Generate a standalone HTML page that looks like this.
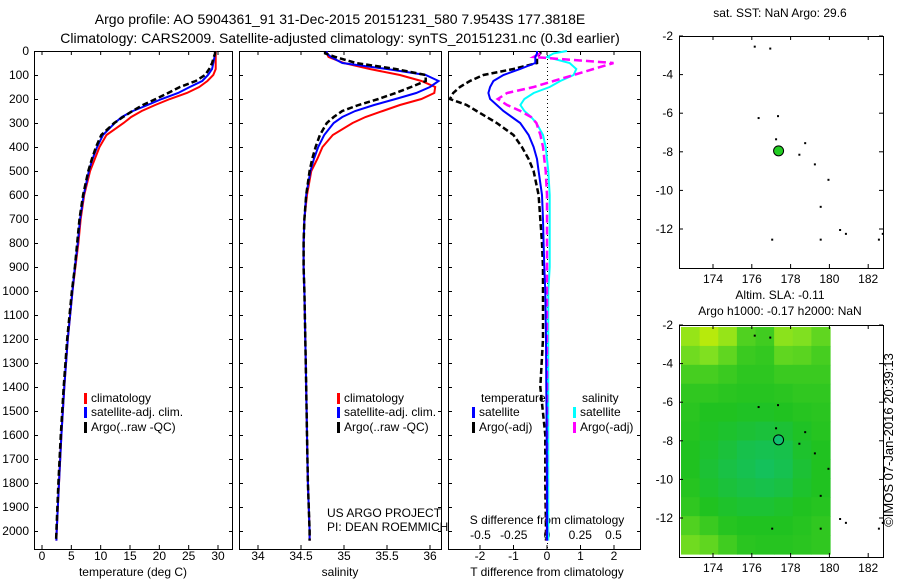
<!DOCTYPE html>
<html><head><meta charset="utf-8"><style>
html,body{margin:0;padding:0;background:#fff;}
svg{display:block;font-family:"Liberation Sans",sans-serif;}
text{font-size:12px;fill:#000;}
</style></head><body>
<svg id="chart" width="900" height="580" viewBox="0 0 900 580">
<text x="340" y="24" text-anchor="middle" style="font-size:14px">Argo profile: AO 5904361_91 31-Dec-2015 20151231_580 7.9543S 177.3818E</text>
<text x="340" y="43" text-anchor="middle" style="font-size:14px">Climatology: CARS2009. Satellite-adjusted climatology: synTS_20151231.nc (0.3d earlier)</text>
<g id="g"></g>
</svg>
<script>
// ---- data ----
const depths=[0,10,25,50,75,100,125,150,175,200,225,250,275,300,350,400,450,500,600,700,800,900,1000,1200,1400,1600,1800,2000,2040];
const tempClim=[29.6,29.6,29.6,29.6,29.6,29.2,28.2,26.8,24.7,21.8,19.3,17.0,15.2,13.9,11.0,9.8,9.0,8.2,7.2,6.6,6.2,5.7,5.2,4.4,3.8,3.3,2.9,2.5,2.45];
const tempSat=[29.5,29.5,29.4,29.2,29.0,28.3,27.3,25.2,23.2,20.4,18.0,15.5,13.6,12.4,10.4,9.4,8.6,8.0,7.1,6.5,6.1,5.6,5.2,4.4,3.8,3.3,2.9,2.5,2.45];
const tempArgo=[29.5,29.5,29.3,29.0,28.5,27.8,26.2,23.5,21.5,19.4,17.2,15.4,13.8,12.3,10.1,9.2,8.5,7.9,7.0,6.4,6.0,5.6,5.1,4.3,3.7,3.2,2.8,2.45,2.4];
const salClim=[34.8,34.8,34.82,35.0,35.3,35.65,35.9,36.06,36.05,35.9,35.65,35.45,35.25,35.1,34.87,34.75,34.69,34.62,34.57,34.54,34.53,34.53,34.54,34.55,34.56,34.57,34.58,34.6,34.6];
const salSat=[34.8,34.8,34.85,34.98,35.5,35.95,36.1,36.0,35.84,35.6,35.35,35.13,34.98,34.88,34.77,34.7,34.65,34.61,34.56,34.54,34.53,34.53,34.54,34.55,34.56,34.57,34.58,34.6,34.6];
const salArgo=[34.78,34.78,34.9,35.14,35.6,35.95,35.95,35.78,35.6,35.4,35.17,34.98,34.88,34.8,34.72,34.67,34.63,34.6,34.56,34.54,34.53,34.53,34.54,34.55,34.56,34.57,34.58,34.6,34.6];
const tDiffSat=[-0.3,-0.3,-0.35,-0.35,-0.8,-1.3,-1.6,-1.7,-1.75,-1.7,-1.5,-1.3,-1.05,-0.8,-0.55,-0.4,-0.3,-0.25,-0.15,-0.12,-0.1,-0.08,-0.05,-0.03,-0.02,-0.01,0,0,0];
const tDiffArgo=[-0.2,-0.2,-0.3,-0.3,-1.0,-1.9,-2.3,-2.6,-2.8,-2.9,-2.4,-2.1,-1.8,-1.5,-1.0,-0.75,-0.55,-0.4,-0.25,-0.2,-0.15,-0.12,-0.12,-0.12,-0.2,-0.05,-0.05,-0.03,-0.03];
const sDiffSat=[0.15,0.05,0.0,0.17,0.22,0.2,0.1,0.02,-0.1,-0.17,-0.2,-0.17,-0.12,-0.08,-0.03,-0.01,0,0.01,0.02,0.02,0.02,0.02,0.01,0.01,0.01,0.01,0.01,0.01,0.01];
const sDiffArgo=[null,-0.05,-0.1,0.5,0.35,0.2,0.05,-0.1,-0.3,-0.37,-0.3,-0.2,-0.12,-0.08,-0.05,-0.03,-0.02,-0.01,0,0,0,0,0,0,0,0,0,0,0];
const depthTicks=[0,100,200,300,400,500,600,700,800,900,1000,1100,1200,1300,1400,1500,1600,1700,1800,1900,2000];
const tempTicks=[0,5,10,15,20,25,30];
const salTicks=[34,34.5,35,35.5,36];
const tDiffTicks=[-2,-1,0,1,2];
const sDiffTicks=[-0.5,-0.25,0,0.25,0.5];
const lonTicks=[174,176,178,180,182];
const latTicks=[-2,-4,-6,-8,-10,-12];
const floatLon=177.38, floatLat=-7.95;
const islandLons=[176.1,176.9,176.3,177.3,177.2,178.7,178.4,179.2,179.9,179.5,177.0,179.5,180.5,180.8,182.5,182.7];
const islandLats=[-2.5,-2.6,-6.2,-6.1,-7.3,-7.5,-8.1,-8.6,-9.4,-10.8,-12.5,-12.5,-12.0,-12.2,-12.5,-12.2];
const slaGrid=[
[0.7,0.85,0.7,0.45,0.4,0.65,0.6,0.5],
[0.55,0.6,0.5,0.38,0.36,0.5,0.48,0.42],
[0.42,0.42,0.38,0.34,0.34,0.38,0.38,0.38],
[0.35,0.35,0.33,0.32,0.32,0.33,0.35,0.35],
[0.33,0.3,0.3,0.28,0.28,0.3,0.32,0.33],
[0.32,0.28,0.25,0.22,0.2,0.22,0.28,0.32],
[0.3,0.25,0.2,0.14,0.12,0.14,0.25,0.3],
[0.3,0.22,0.16,0.12,0.08,0.12,0.22,0.3],
[0.32,0.25,0.2,0.16,0.14,0.17,0.25,0.3],
[0.35,0.3,0.26,0.23,0.23,0.26,0.3,0.32],
[0.45,0.38,0.32,0.3,0.3,0.3,0.32,0.35],
[0.55,0.5,0.4,0.33,0.32,0.32,0.33,0.35]];

// ---- helpers ----
const NS="http://www.w3.org/2000/svg";
const G=document.getElementById('g');
function el(tag,attrs,parent){const e=document.createElementNS(NS,tag);for(const k in attrs)e.setAttribute(k,attrs[k]);(parent||G).appendChild(e);return e;}
function txt(x,y,s,anchor,name,size){const t=el('text',{x:x,y:y,'text-anchor':anchor||'start'});if(size)t.style.fontSize=size+'px';t.textContent=s;


return t;}
const yD=d=>51+d*0.24;
const xT=v=>42+v*5.867;
const xS=v=>258+(v-34)*86;
const xTD=v=>547+v*33.5;
const xSD=v=>547+v*133;
function frame(x0,x1,y0,y1,name){const r=el('rect',{x:x0+.5,y:y0+.5,width:x1-x0,height:y1-y0,fill:'none',stroke:'#000'});

}
function line(vals,xf,color,dash,w,name){let d='';let pen=false;vals.forEach((v,i)=>{if(v===null){pen=false;return;}d+=(pen?'L':'M')+xf(v).toFixed(1)+' '+yD(depths[i]).toFixed(1);pen=true;});
const p=el('path',{d:d,fill:'none',stroke:color,'stroke-width':w||2,'stroke-dasharray':dash||'none'});

}
function profilePanel(x0,x1,idx){frame(x0,x1,51,549,'panel-frame-'+idx);
depthTicks.forEach(d=>{el('line',{x1:x0,x2:x0+4,y1:yD(d)+.5,y2:yD(d)+.5,stroke:'#000'});el('line',{x1:x1-3,x2:x1,y1:yD(d)+.5,y2:yD(d)+.5,stroke:'#000'});});}

// panel 1
profilePanel(34,232,1);
depthTicks.forEach(d=>txt(29,yD(d)+4,String(d),'end','depth-tick-label'));
tempTicks.forEach(v=>{const x=xT(v);el('line',{x1:x,x2:x,y1:545,y2:549,stroke:'#000'});el('line',{x1:x,x2:x,y1:51,y2:55,stroke:'#000'});txt(x,560,String(v),'middle','temp-tick-label');});
txt(133,576,'temperature (deg C)','middle','temp-axis-title');
line(tempClim,xT,'#f00',null,2,'temp-climatology-line');
line(tempSat,xT,'#00f',null,2,'temp-satellite-line');
line(tempArgo,xT,'#000','6,3',2.5,'temp-argo-line');
function legendEntry(x,y,color,label,name){const r=el('rect',{x:x,y:y-9,width:3,height:11,fill:color});


txt(x+7,y,label,'start',name);}
legendEntry(84,402,'#f00','climatology','legend-climatology');
legendEntry(84,416,'#00f','satellite-adj. clim.','legend-satellite-adj');
legendEntry(84,431,'#000','Argo(..raw -QC)','legend-argo');

// panel 2
profilePanel(239,441,2);
salTicks.forEach(v=>{const x=xS(v);el('line',{x1:x,x2:x,y1:545,y2:549,stroke:'#000'});el('line',{x1:x,x2:x,y1:51,y2:55,stroke:'#000'});txt(x,560,String(v),'middle','sal-tick-label');});
txt(340,576,'salinity','middle','sal-axis-title');
line(salClim,xS,'#f00',null,2,'sal-climatology-line');
line(salSat,xS,'#00f',null,2,'sal-satellite-line');
line(salArgo,xS,'#000','6,3',2.5,'sal-argo-line');
legendEntry(337,402,'#f00','climatology','legend2-climatology');
legendEntry(337,416,'#00f','satellite-adj. clim.','legend2-satellite-adj');
legendEntry(337,431,'#000','Argo(..raw -QC)','legend2-argo');
txt(327,517,'US ARGO PROJECT','start','project-label');
txt(327,531,'PI: DEAN ROEMMICH','start','pi-label');

// panel 3
profilePanel(448,640,3);
el('line',{x1:547.5,x2:547.5,y1:51,y2:549,stroke:'#000','stroke-dasharray':'1,3'});
tDiffTicks.forEach(v=>{const x=xTD(v);el('line',{x1:x,x2:x,y1:545,y2:549,stroke:'#000'});el('line',{x1:x,x2:x,y1:51,y2:55,stroke:'#000'});txt(x,560,String(v),'middle','tdiff-tick-label');});
sDiffTicks.forEach(v=>txt(xSD(v),539,String(v),'middle','sdiff-tick-label'));
txt(547,524,'S difference from climatology','middle','sdiff-axis-title');
txt(547,576,'T difference from climatology','middle','tdiff-axis-title');
line(tDiffArgo,xTD,'#000','6,3',2.5,'tdiff-argo-line');
line(sDiffSat,xSD,'#0ff',null,2,'sdiff-satellite-line');
line(sDiffArgo,xSD,'#f0f','8,4',2.5,'sdiff-argo-line');
line(tDiffSat,xTD,'#00f',null,2,'tdiff-satellite-line');
txt(481,402,'temperature','start','legend3-temperature-header');
txt(582,402,'salinity','start','legend3-salinity-header');
legendEntry(472,416,'#00f','satellite','legend3-t-satellite');
legendEntry(472,431,'#000','Argo(-adj)','legend3-t-argo');
legendEntry(573,416,'#0ff','satellite','legend3-s-satellite');
legendEntry(573,431,'#f0f','Argo(-adj)','legend3-s-argo');

// maps
function mapPanel(y0,idx){
  const xL=lon=>713+(lon-174)*19.4;
  const yL=lat=>y0+(-2-lat)*19.3;
  return {xL,yL};
}
function mapAxes(y0,y1,m,idx){
  frame(679,883,y0,y1,'map-frame-'+idx);
  lonTicks.forEach(v=>{const x=m.xL(v);el('line',{x1:x,x2:x,y1:y1-4,y2:y1,stroke:'#000'});el('line',{x1:x,x2:x,y1:y0,y2:y0+4,stroke:'#000'});txt(x,y1+15,String(v),'middle','lon-tick-label');});
  latTicks.forEach(v=>{const y=m.yL(v);el('line',{x1:679,x2:683,y1:y,y2:y,stroke:'#000'});el('line',{x1:879,x2:883,y1:y,y2:y,stroke:'#000'});txt(673,y+4,String(v),'end','lat-tick-label');});
}
function islands(m){islandLons.forEach((lo,i)=>{const r=el('rect',{x:m.xL(lo),y:m.yL(islandLats[i]),width:2,height:2,fill:'#000'});

});}
// top map
const m1=mapPanel(36,1);
txt(780,17,'sat. SST: NaN Argo: 29.6','middle','sst-map-title');
islands(m1);
const c1=el('circle',{cx:m1.xL(floatLon),cy:m1.yL(floatLat),r:5,fill:'#2c2',stroke:'#000'});


mapAxes(36,268,m1,1);

// bottom map
const m2=mapPanel(325,2);
txt(780,299,'Altim. SLA: -0.11','middle','sla-map-title');
txt(780,315,'Argo h1000: -0.17 h2000: NaN','middle','sla-map-subtitle');
function cmap(v){const stops=[[0,[16,192,112]],[0.3,[32,194,32]],[0.6,[128,224,32]],[1,[216,240,0]]];
for(let i=1;i<stops.length;i++){if(v<=stops[i][0]){const a=stops[i-1],b=stops[i],t=(v-a[0])/(b[0]-a[0]);return 'rgb('+a[1].map((c,k)=>Math.round(c+(b[1][k]-c)*t)).join(',')+')';}}return 'rgb(216,240,0)';}
const cw=(830-681)/slaGrid[0].length, ch=(554-327)/slaGrid.length;
slaGrid.forEach((row,r)=>row.forEach((v,c)=>{const rc=el('rect',{x:681+c*cw,y:327+r*ch,width:cw+0.6,height:ch+0.6,fill:cmap(v)});

}));
islands(m2);
const c2=el('circle',{cx:m2.xL(floatLon),cy:m2.yL(floatLat),r:5,fill:'#10c070',stroke:'#000'});


mapAxes(325,557,m2,2);
const rot=txt(0,0,'©IMOS 07-Jan-2016 20:39:13','middle','imos-timestamp',13);
rot.setAttribute('transform','translate(893,440) rotate(-90)');
</script>
</body></html>
